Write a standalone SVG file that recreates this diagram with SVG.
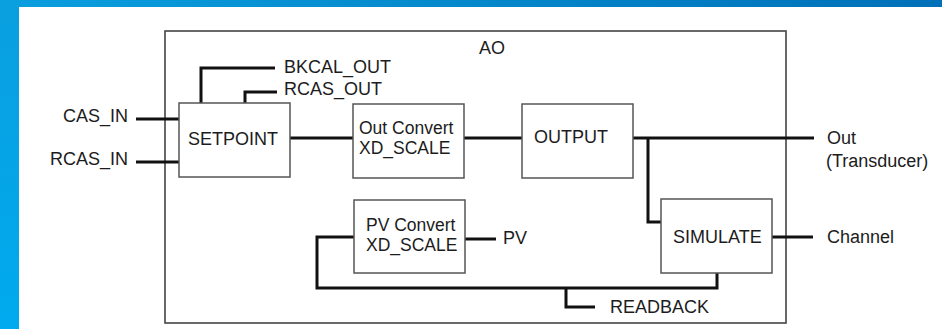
<svg xmlns="http://www.w3.org/2000/svg" width="942" height="329" viewBox="0 0 942 329">
<defs>
<linearGradient id="topg" x1="0" y1="0" x2="1" y2="0">
<stop offset="0" stop-color="#0a9fdf"/>
<stop offset="1" stop-color="#0070b8"/>
</linearGradient>
<linearGradient id="leftg" x1="0" y1="0" x2="0" y2="1">
<stop offset="0" stop-color="#0a9fdf"/>
<stop offset="1" stop-color="#00aaee"/>
</linearGradient>
</defs>
<style>
text{font-family:"Liberation Sans",Arial,sans-serif;font-size:18px;fill:#1c1c1c}
.two{font-size:17.5px}
.box{fill:#fff;stroke:#555;stroke-width:1.5}
.frame{fill:#fff;stroke:#444;stroke-width:1.6}
.wire{fill:none;stroke:#111;stroke-width:3;stroke-linejoin:miter}
</style>
<rect x="0" y="0" width="942" height="329" fill="#fff"/>
<rect x="0" y="0" width="942" height="7" fill="url(#topg)"/>
<rect x="0" y="0" width="19" height="329" fill="url(#leftg)"/>
<g id="AO">
<rect class="frame" x="165" y="31" width="621" height="292"/>
<text x="492" y="54" text-anchor="middle" font-size="20">AO</text>
</g>
<g id="connectors">
<path class="wire" d="M136 119H179"/>
<path class="wire" d="M136 162H179"/>
<path class="wire" d="M201 103V68H275"/>
<path class="wire" d="M245 103V92H277"/>
<path class="wire" d="M290 138H353"/>
<path class="wire" d="M464 138H522"/>
<path class="wire" d="M633 138H814"/>
<path class="wire" d="M648 138V222H661"/>
<path class="wire" d="M772 237H813"/>
<path class="wire" d="M465 239H496"/>
<path class="wire" d="M354 237H317V288H717V273"/>
<path class="wire" d="M566 288V307H595"/>
</g>
<g id="SETPOINT">
<rect class="box" x="179" y="103" width="111" height="74"/>
<text x="233" y="145" text-anchor="middle">SETPOINT</text>
</g>
<g id="OutConvert">
<rect class="box" x="353" y="104" width="111" height="74"/>
<text class="two" x="359" y="134">Out Convert</text>
<text class="two" x="359" y="154">XD_SCALE</text>
</g>
<g id="OUTPUT">
<rect class="box" x="522" y="104" width="111" height="74"/>
<text x="534" y="143">OUTPUT</text>
</g>
<g id="PVConvert">
<rect class="box" x="354" y="200" width="111" height="73"/>
<text class="two" x="366" y="231">PV Convert</text>
<text class="two" x="366" y="251">XD_SCALE</text>
</g>
<g id="SIMULATE">
<rect class="box" x="661" y="199" width="111" height="74"/>
<text x="673" y="243">SIMULATE</text>
</g>
<g id="labels">
<text x="128" y="122" text-anchor="end">CAS_IN</text>
<text x="128" y="165" text-anchor="end">RCAS_IN</text>
<text x="284" y="73">BKCAL_OUT</text>
<text x="284" y="95">RCAS_OUT</text>
<text x="503" y="244">PV</text>
<text x="827" y="144">Out</text>
<text x="826" y="167">(Transducer)</text>
<text x="827" y="243">Channel</text>
<text x="610" y="313">READBACK</text>
</g>
</svg>
